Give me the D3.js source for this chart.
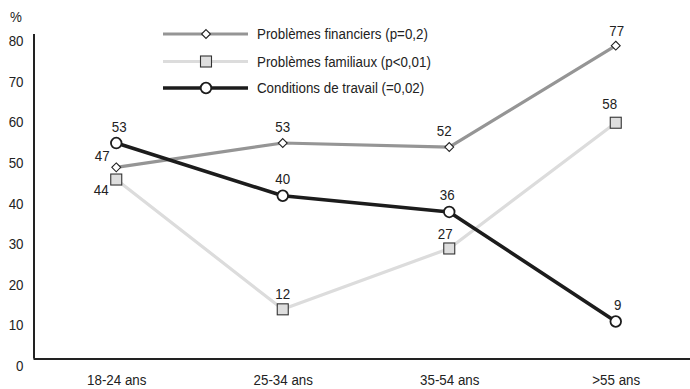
<!DOCTYPE html>
<html>
<head>
<meta charset="utf-8">
<script src="https://cdn.jsdelivr.net/npm/d3@7"></script>
<style>
  html, body { margin: 0; padding: 0; background: #fff; }
  svg { display: block; font-family: "Liberation Sans", Arial, sans-serif; }
</style>
</head>
<body>
<svg id="chart" width="690" height="389"></svg>
<script>
// Age groups on the x axis
const categories = ["18-24 ans", "25-34 ans", "35-54 ans", ">55 ans"];

// Share of respondents (%) for each reason, by age group
const financiers = [47, 53, 52, 77];
const familiaux  = [44, 12, 27, 58];
const travail    = [53, 40, 36, 9];

const seriesNames = [
  "Problèmes financiers (p=0,2)",
  "Problèmes familiaux (p<0,01)",
  "Conditions de travail (=0,02)"
];

const yTicks = [0, 10, 20, 30, 40, 50, 60, 70, 80];

const FONT_SIZE = 15;
const CONDENSE = 0.89; // horizontal squeeze for a condensed look

const series = [
  { name: seriesNames[0], values: financiers, color: "#959595", width: 3.2, marker: "diamond",
    label: [{dx: -14, dy: -12}, {dx: 0, dy: -16}, {dx: -5, dy: -16}, {dx: 1, dy: -15}] },
  { name: seriesNames[1], values: familiaux, color: "#dcdcdc", width: 3.2, marker: "square",
    label: [{dx: -15, dy: 10}, {dx: 0, dy: -16}, {dx: -4, dy: -15}, {dx: -6, dy: -19}] },
  { name: seriesNames[2], values: travail, color: "#1c1c1c", width: 3.6, marker: "circle",
    label: [{dx: 3, dy: -16}, {dx: 0, dy: -17}, {dx: -2, dy: -17}, {dx: 2, dy: -17}] }
];

const svg = d3.select("#chart");

const x = d3.scalePoint().domain(categories).range([33, 699]).padding(0.5);
const y = d3.scaleLinear().domain([0, 80]).range([358, 33.5]);

// Axes
const yAxis = svg.append("g")
  .attr("transform", "translate(33.5,0)")
  .call(d3.axisLeft(y).tickValues(yTicks).tickSize(0).tickSizeOuter(0).tickPadding(10));
yAxis.select(".domain").attr("stroke", "#222").attr("stroke-width", 2);
yAxis.selectAll("text").attr("dy", "0.82em").attr("fill", "#222");

const xAxis = svg.append("g")
  .attr("transform", "translate(0,358.5)")
  .call(d3.axisBottom(x).tickSize(0).tickSizeOuter(0).tickPadding(16));
xAxis.select(".domain").attr("stroke", "#222").attr("stroke-width", 1.8);
xAxis.selectAll("text").attr("fill", "#222");
xAxis.attr("font-family", null).attr("font-size", null);
yAxis.attr("font-family", null).attr("font-size", null);

svg.append("text").attr("x", 10).attr("y", 22).attr("fill", "#222").text("%");

// Marker drawing
function drawMarker(g, type, cx, cy) {
  if (type === "diamond") {
    g.append("path")
      .attr("d", d3.symbol().type(d3.symbolDiamond2).size(50)())
      .attr("transform", `translate(${cx},${cy})`)
      .attr("fill", "#fff").attr("stroke", "#222").attr("stroke-width", 1.1);
  } else if (type === "square") {
    g.append("rect")
      .attr("x", cx - 5.5).attr("y", cy - 5.5).attr("width", 11).attr("height", 11)
      .attr("fill", "#dedede").attr("stroke", "#333").attr("stroke-width", 1.1);
  } else {
    g.append("circle")
      .attr("cx", cx).attr("cy", cy).attr("r", 5.3)
      .attr("fill", "#fff").attr("stroke", "#1c1c1c").attr("stroke-width", 1.8);
  }
}

const line = d3.line().x((d, i) => x(categories[i])).y(d => y(d));

// Lines
series.forEach(s => {
  svg.append("path")
    .datum(s.values)
    .attr("d", line)
    .attr("fill", "none")
    .attr("stroke", s.color)
    .attr("stroke-width", s.width)
    .attr("stroke-linejoin", "round");
});

// Markers and value labels
series.forEach(s => {
  const g = svg.append("g");
  s.values.forEach((v, i) => {
    const cx = x(categories[i]), cy = y(v);
    drawMarker(g, s.marker, cx, cy);
    g.append("text")
      .attr("x", cx + s.label[i].dx)
      .attr("y", cy + s.label[i].dy)
      .attr("dy", "0.35em")
      .attr("text-anchor", "middle")
      .attr("fill", "#222")
      .text(v);
  });
});

// Legend
const legendRows = [34, 61.5, 88];
series.forEach((s, i) => {
  const g = svg.append("g").attr("transform", `translate(0,${legendRows[i]})`);
  g.append("line").attr("x1", 163).attr("x2", 248).attr("y1", 0).attr("y2", 0)
    .attr("stroke", s.color).attr("stroke-width", s.width);
  drawMarker(g, s.marker, 206, 0);
  g.append("text").attr("x", 257).attr("y", 0).attr("dy", "0.35em")
    .attr("fill", "#222").text(s.name);
});

// Uniform type: same size everywhere, squeezed horizontally around each anchor
svg.selectAll("text").each(function () {
  const t = d3.select(this);
  const tx = +t.attr("x") || 0, ty = +t.attr("y") || 0;
  t.attr("font-size", FONT_SIZE)
   .attr("transform", `translate(${tx},${ty}) scale(${CONDENSE},1) translate(${-tx},${-ty})`);
});
</script>
</body>
</html>
